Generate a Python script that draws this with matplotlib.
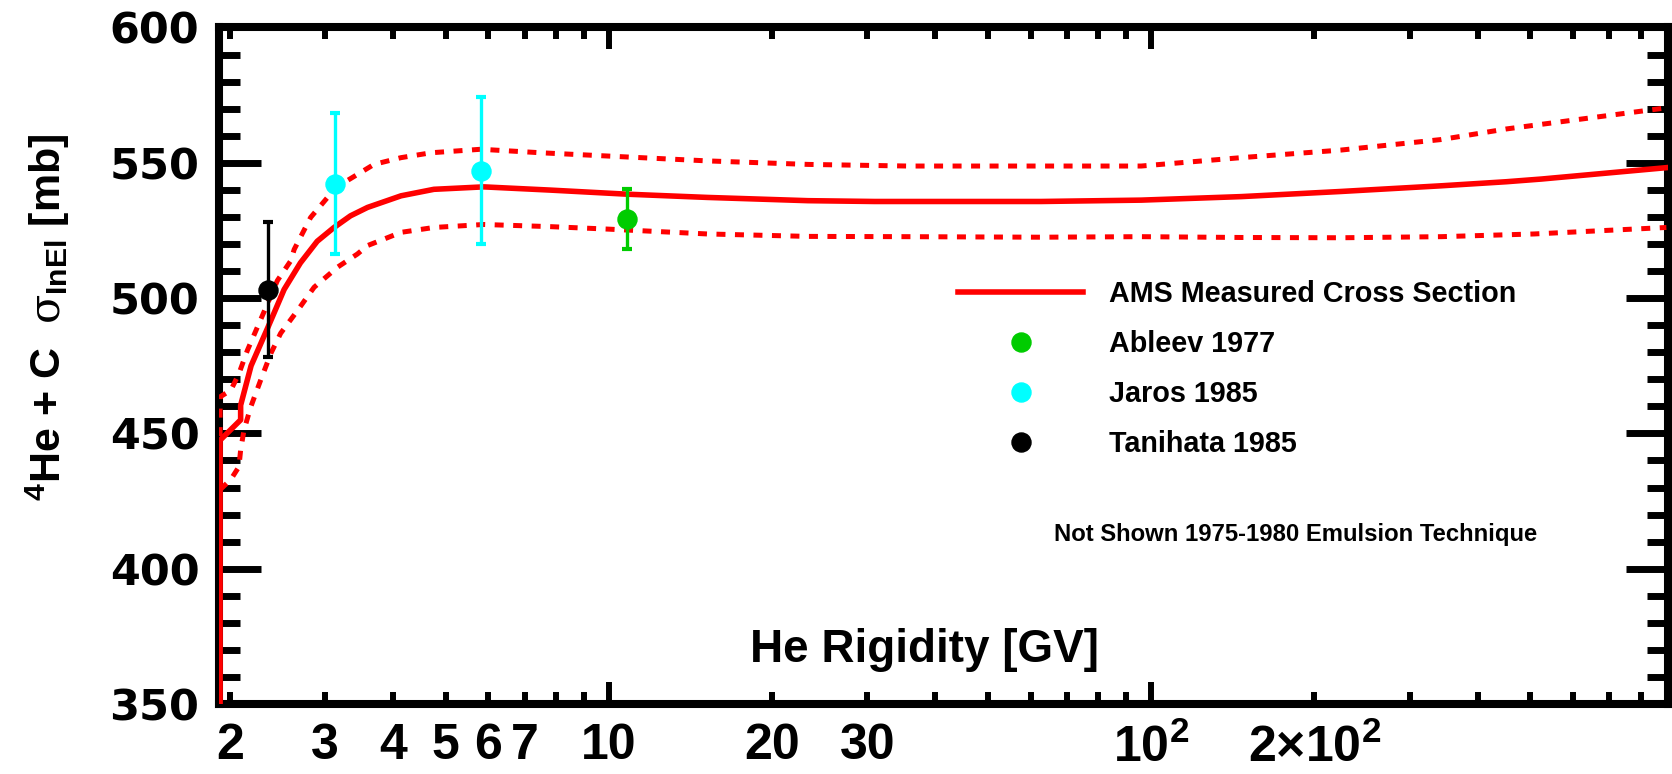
"""
4He + C inelastic cross section vs rigidity, AMS band with older measurements.
"""
import matplotlib
matplotlib.use("Agg")
import matplotlib.pyplot as plt
from matplotlib.lines import Line2D
from matplotlib.ticker import MultipleLocator

plt.rcParams['font.family'] = ['Liberation Sans', 'DejaVu Sans']
plt.rcParams['font.weight'] = 'bold'
plt.rcParams['mathtext.fontset'] = 'custom'
plt.rcParams['mathtext.rm'] = 'Liberation Sans:bold'
plt.rcParams['mathtext.bf'] = 'Liberation Sans:bold'
plt.rcParams['mathtext.it'] = 'DejaVu Serif:weight=normal:style=normal'

# AMS measured cross section (central line)
ams_rig = [1.92, 1.92, 2.095, 2.095, 2.19, 2.35, 2.52, 2.70, 2.90, 3.11, 3.34, 3.59, 4.14, 4.76, 5.88,
           7.82, 10.8, 15.2, 23.3, 30.9, 62.7, 95.9, 146.6, 224, 343, 452, 525, 892]
ams_xs = [350, 447.5, 455, 460.4, 475, 489, 503.2, 513, 521, 526, 530.4, 533.5, 537.8, 540.2, 541.1,
          539.9, 538.4, 537.2, 536.0, 535.7, 535.7, 536.2, 537.5, 539.4, 541.5, 543.0, 544.0, 548.2]

# upper / lower edge of the AMS band
upper_rig = [1.92, 1.92, 2.01, 2.08, 2.156, 2.25, 2.348, 2.449, 2.592, 2.63, 2.82, 3.03, 3.25, 3.69,
             4.14, 4.70, 5.81, 7.50, 9.95, 15.2, 23.3, 35.6, 62.7, 95.9, 146.6, 224, 343, 452, 892]
upper_xs = [449, 463.5, 466, 472.1, 480.7, 489.3, 497.9, 506.5, 513.8, 518, 529.8, 537.2, 542.7, 549.4,
            551.9, 553.7, 555.0, 553.7, 552.5, 550.7, 549.4, 548.8, 548.8, 548.8, 551.9, 554.7, 558.6,
            562.5, 570.3]

lower_rig = [1.92, 2.01, 2.08, 2.095, 2.125, 2.187, 2.281, 2.381, 2.483, 2.667, 2.862, 3.16, 3.44,
             3.59, 4.14, 4.76, 5.88, 7.82, 9.95, 15.2, 23.3, 35.6, 62.7, 95.9, 146.6, 224, 343,
             452, 509, 892]
lower_xs = [429.2, 433, 437.7, 443.9, 451.2, 459.8, 469.7, 479.5, 487, 495.4, 504, 511.4, 516.3,
            519.4, 524.3, 526.1, 527.2, 526.4, 525.5, 523.7, 522.8, 522.7, 522.5, 522.7, 522.4, 522.3,
            522.7, 523.4, 523.7, 526.1]

# older measurements
ableev_rig = [10.8]
ableev_xs = [529.1]
ableev_err = [[11.1], [11.2]]

jaros_rig = [3.13, 5.81]
jaros_xs = [542.1, 547.0]
jaros_err = [[25.8, 27.1], [26.2, 27.4]]

tanihata_rig = [2.35]
tanihata_xs = [503.0]
tanihata_err = [[24.9], [25.2]]

xtick_major = [10, 100]
xtick_major_labels = ['10', r'$\mathrm{10^{2}}$']
xtick_minor = [2, 3, 4, 5, 6, 7, 8, 9, 20, 30, 40, 50, 60, 70, 80, 90,
               200, 300, 400, 500, 600, 700, 800]
xtick_minor_labels = ['2', '3', '4', '5', '6', '7', '', '', '20', '30', '', '', '', '', '', '',
                      r'$\mathrm{2{\times}10^{2}}$', '', '', '', '', '', '']
ytick_major = [350, 400, 450, 500, 550, 600]

fig = plt.figure(figsize=(16.72, 7.74), dpi=100)
ax = fig.add_axes([0.1309, 0.0904, 0.9979 - 0.1309, 0.9645 - 0.0904])

red = '#ff0000'
ax.plot(ams_rig, ams_xs, color=red, lw=4, zorder=3, solid_joinstyle='round')
ax.plot(upper_rig, upper_xs, color=red, lw=3.6, dashes=(1.8, 1.9), zorder=3)
ax.plot(lower_rig, lower_xs, color=red, lw=3.6, dashes=(1.8, 1.9), zorder=3)

eb = dict(fmt='o', ms=13.7, elinewidth=2.4, capsize=3.6, capthick=3, zorder=4)
ax.errorbar(ableev_rig, ableev_xs, yerr=ableev_err, color='#00cc00', **eb)
ax.errorbar(jaros_rig, jaros_xs, yerr=jaros_err, color='#00ffff', **eb)
ax.errorbar(tanihata_rig, tanihata_xs, yerr=tanihata_err, color='black', **eb)

ax.set_xscale('log')
ax.set_xlim(1.91, 900)
ax.set_ylim(350, 600)

ax.set_xticks(xtick_major, xtick_major_labels)
ax.set_xticks(xtick_minor, xtick_minor_labels, minor=True)
ax.set_yticks(ytick_major)
ax.yaxis.set_minor_locator(MultipleLocator(10))

ax.tick_params(axis='both', which='both', direction='in', top=True, right=True)
ax.tick_params(axis='x', which='major', length=16, width=4.3, labelsize=36, pad=14)
ax.tick_params(axis='x', which='minor', length=8.6, width=4.3, labelsize=36, pad=14)
ax.tick_params(axis='y', which='major', length=30, width=5, labelsize=31, pad=14,
               labelfontfamily='DejaVu Sans')
ax.tick_params(axis='y', which='minor', length=15, width=5)
for s in ax.spines.values():
    s.set_linewidth(5.8)

fig.text(0.5532, 0.1447, 'He Rigidity [GV]', fontsize=33, ha='center', va='baseline')
fig.text(0.0287, 0.5904, r'$^{\mathrm{4}}$He + C  $\sigma_{\mathrm{InEl}}$ [mb]',
         fontsize=31, rotation=90, ha='center', va='center')
fig.text(0.7751, 0.3100, 'Not Shown 1975-1980 Emulsion Technique', fontsize=17.2,
         ha='center', va='center')

handles = [
    Line2D([], [], color=red, lw=4),
    Line2D([], [], color='#00cc00', marker='o', ms=13.7, ls='none'),
    Line2D([], [], color='#00ffff', marker='o', ms=13.7, ls='none'),
    Line2D([], [], color='black', marker='o', ms=13.7, ls='none'),
]
labels = ['AMS Measured Cross Section', 'Ableev 1977', 'Jaros 1985', 'Tanihata 1985']
ax.legend(handles, labels, loc='upper left', bbox_to_anchor=(0.573, 0.6384),
          bbox_transform=fig.transFigure, frameon=False, fontsize=20.7,
          borderpad=0, borderaxespad=0, handlelength=4.36, handletextpad=0.9,
          labelspacing=0.77, numpoints=1)

fig.savefig('out.png', dpi=100)
